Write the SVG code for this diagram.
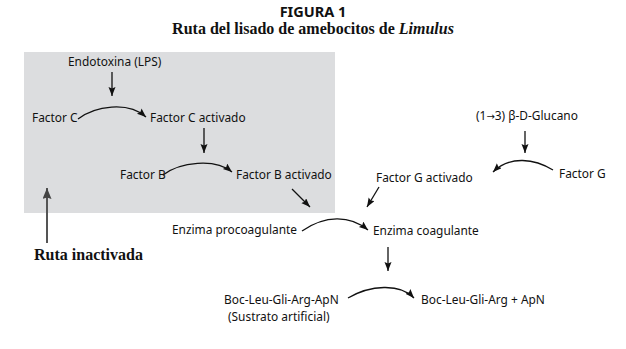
<svg xmlns="http://www.w3.org/2000/svg" width="626" height="349" viewBox="0 0 626 349">
<style>
.t{font-family:"Noto Sans","Open Sans",sans-serif;font-size:11.9px;fill:#111}
.ti{font-family:"Noto Sans","Liberation Sans",sans-serif;font-size:14.5px;font-weight:bold;fill:#111}
.st{font-family:"Liberation Serif",serif;font-size:16px;font-weight:bold;fill:#111}
.ln{fill:none;stroke:#111;stroke-width:1.3;marker-end:url(#ah)}
.gr{fill:none;stroke:#555;stroke-width:2;marker-end:url(#ag)}
</style>
<defs>
<marker id="ah" markerUnits="userSpaceOnUse" markerWidth="10" markerHeight="8" refX="9" refY="3.5" orient="auto">
<path d="M0,0 L9,3.5 L0,7 L1.5,3.5 z" fill="#111"/>
</marker>
<marker id="ag" markerUnits="userSpaceOnUse" markerWidth="12" markerHeight="10" refX="11" refY="4.5" orient="auto">
<path d="M0,0 L11,4.5 L0,9 L1.5,4.5 z" fill="#444"/>
</marker>
</defs>
<g id="title">
<text class="ti" x="313" y="17" text-anchor="middle">FIGURA 1</text>
<text class="st" x="313" y="33.5" text-anchor="middle">Ruta del lisado de amebocitos de <tspan font-style="italic">Limulus</tspan></text>
</g>
<rect id="inactivated-region" x="24" y="52" width="311" height="161" fill="#dcdddf"/>
<g id="connectors">
<path class="ln" d="M112,72 L112,96"/>
<path class="ln" d="M78,119 C95,106 128,101 146,117"/>
<path class="ln" d="M204,128 L204,153"/>
<path class="ln" d="M163,175 C180,162 215,158 232,172"/>
<path class="ln" d="M292,189 L310,207"/>
<path class="ln" d="M525,131 L525,153"/>
<path class="ln" d="M553,170 C535,159 510,155 493,172"/>
<path class="ln" d="M379,187 L367,207"/>
<path class="ln" d="M302,231 C325,215 350,215 368,230"/>
<path class="ln" d="M388,247 L388,271"/>
<path class="ln" d="M348,298 C370,285 400,283 414,298"/>
<path class="gr" d="M47,243 L47,188"/>
</g>
<g id="n-endotoxina"><text class="t" x="68" y="66">Endotoxina (LPS)</text></g>
<g id="n-factorC"><text class="t" x="32" y="122">Factor C</text></g>
<g id="n-factorCact"><text class="t" x="150" y="122">Factor C activado</text></g>
<g id="n-factorB"><text class="t" x="120" y="178.5">Factor B</text></g>
<g id="n-factorBact"><text class="t" x="236" y="178.5">Factor B activado</text></g>
<g id="n-glucano"><text class="t" x="476" y="120">(1<tspan font-family="DejaVu Sans" font-size="10px">→</tspan>3) β-D-Glucano</text></g>
<g id="n-factorG"><text class="t" x="559" y="178">Factor G</text></g>
<g id="n-factorGact"><text class="t" x="376" y="182">Factor G activado</text></g>
<g id="n-procoag"><text class="t" x="172" y="234">Enzima procoagulante</text></g>
<g id="n-coag"><text class="t" x="373" y="235">Enzima coagulante</text></g>
<g id="n-sustrato"><text class="t" x="224" y="304">Boc-Leu-Gli-Arg-ApN</text><text class="t" x="228" y="321">(Sustrato artificial)</text></g>
<g id="n-producto"><text class="t" x="421" y="304">Boc-Leu-Gli-Arg + ApN</text></g>
<g id="n-ruta"><text class="st" x="34" y="260">Ruta inactivada</text></g>
</svg>
